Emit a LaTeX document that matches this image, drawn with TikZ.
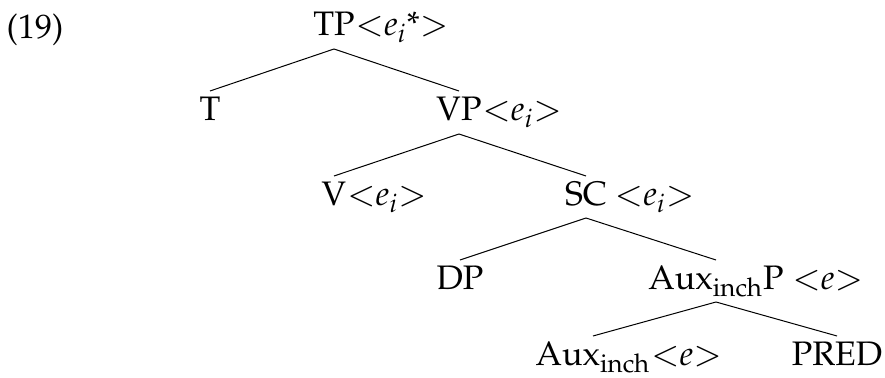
\documentclass[tikz,border=0pt]{standalone}
\usepackage[T1]{fontenc}
\usepackage{mathpazo}
\usetikzlibrary{calc,positioning}

\begin{document}
\begin{tikzpicture}[x=0.5pt, y=-0.5pt, font=\fontsize{17}{20}\selectfont,
  every node/.style={inner sep=0pt},
  cat/.style={anchor=base},
  feat/.style={anchor=base west},
  branch/.style={line width=0.5pt}]
\useasboundingbox (0,0) rectangle (885,378);
% example number
\node[cat] (ex) at (35,39) {(19)};
% categories
\node[cat] (tp) at (334,36) {TP};
\node[cat] (t) at (210,121) {T};
\node[cat] (vp) at (459,121) {VP};
\node[cat] (v) at (334,206) {V};
\node[cat] (sc) at (586,206) {SC};
\node[cat] (dp) at (460,290) {DP};
\node[cat] (aux) at (716,290) {Aux\textsubscript{inch}P};
\node[cat] (auxh) at (593,366) {Aux\textsubscript{inch}};
\node[cat] (pred) at (837,366) {PRED};
% features
\node[feat] (tpf) at (tp.base east) {$\mathord{<}e_i\mbox{*}\mathord{>}$};
\node[feat] (vpf) at (vp.base east) {$\mathord{<}e_i\mathord{>}$};
\node[feat] (vf) at (v.base east) {$\mathord{<}e_i\mathord{>}$};
\node[feat] (scf) at ([xshift=3.5pt]sc.base east) {$\mathord{<}e_i\mathord{>}$};
\node[feat] (auxf) at ([xshift=4pt]aux.base east) {$\mathord{<}e\mathord{>}$};
\node[feat] (auxhf) at (auxh.base east) {$\mathord{<}e\mathord{>}$};
% branches
\draw[branch] ($(tp.base)+(0,13)$) -- ($(t.base)+(0,-30)$);
\draw[branch] ($(tp.base)+(0,13)$) -- ($(vp.base)+(0,-30)$);
\draw[branch] ($(vp.base)+(0,13)$) -- ($(v.base)+(0,-30)$);
\draw[branch] ($(vp.base)+(0,13)$) -- ($(sc.base)+(0,-30)$);
\draw[branch] ($(sc.base)+(0,12)$) -- ($(dp.base)+(0,-30)$);
\draw[branch] ($(sc.base)+(0,12)$) -- ($(aux.base)+(0,-30)$);
\draw[branch] ($(aux.base)+(0,12)$) -- ($(auxh.base)+(0,-30)$);
\draw[branch] ($(aux.base)+(0,12)$) -- ($(pred.base)+(0,-30)$);
\end{tikzpicture}
\end{document}
